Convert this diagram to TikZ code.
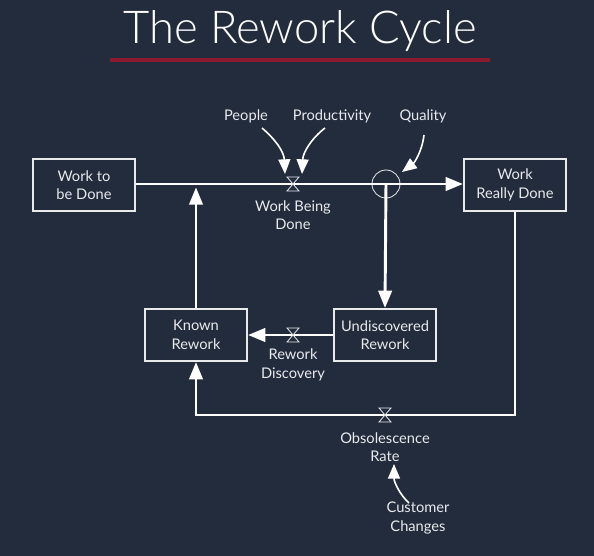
\documentclass[tikz,border=0pt]{standalone}
\usepackage{fontspec}
\setmainfont{Lato}
\newfontfamily\titlefont{Lato Light}
\usetikzlibrary{arrows.meta}

\definecolor{navy}{RGB}{35,44,61}
\definecolor{ink}{RGB}{232,234,236}
\definecolor{rule}{RGB}{140,26,46}

\tikzset{every picture/.style={line width=0.75pt}}
\tikzset{
	stock/.style={draw=ink, line width=1.5pt, minimum width=76.5pt, minimum height=39pt, align=center, text=ink, font=\fontsize{11}{14}\selectfont},
	lbl/.style={text=ink, align=center, font=\fontsize{11}{14}\selectfont},
	flow/.style={draw=white, line width=2.2pt, -{Triangle[length=13pt,width=10pt]}},
	link/.style={draw=white, line width=1.2pt, -{Triangle[length=11pt,width=9pt]}},
	valve/.style={draw=ink, fill=navy, line width=0.6pt}
}

\begin{document}
\begin{tikzpicture}[x=0.75pt,y=0.75pt,yscale=-1,xscale=1]
	\useasboundingbox[fill=navy] (0,0) rectangle (594,556);

	% Title
	\draw (300,31) node [text=white, font=\titlefont\fontsize{34}{40}\selectfont] (title) {The Rework Cycle};
	\draw [rule, line width=3pt] (110,60) -- (490,60);

	% Stocks
	\draw (84,185) node [stock] (wtbd) {Work to\\be Done};
	\draw (515,185) node [stock] (wrd) {Work\\Really Done};
	\draw (196,335) node [stock] (kr) {Known\\Rework};
	\draw (385,335) node [stock] (udr) {Undiscovered\\Rework};

	% Valves and junctions
	\coordinate (wbd) at (293,184);
	\coordinate (rwd) at (293,335);
	\coordinate (obr) at (385,415);
	\coordinate (krtop) at (196,184);
	\draw (386,184) node [circle, draw=ink, line width=0.6pt, minimum size=21pt, inner sep=0pt] (qual) {};

	% Flows
	\draw [flow] (wtbd.east |- wbd) -- (wrd.west |- wbd);
	\draw [flow] (qual.center) -- (udr.north);
	\draw [flow] (kr.north) -- ([yshift=2.5]krtop);
	\draw [flow] (udr.west) -- (kr.east);
	\draw [flow] (wrd.south) |- (obr) -| (kr.south);

	% Valve shapes
	\draw [valve] (wbd) ++(-6,-7) -- ++(12,0) -- ++(-12,14) -- ++(12,0) -- cycle;
	\draw [valve] (rwd) ++(-6,-7) -- ++(12,0) -- ++(-12,14) -- ++(12,0) -- cycle;
	\draw [valve] (obr) ++(-6,-7) -- ++(12,0) -- ++(-12,14) -- ++(12,0) -- cycle;

	% Text Node
	\draw (246,116) node [lbl] (ppl) {People};
	% Text Node
	\draw (332,116) node [lbl] (prod) {Productivity};
	% Text Node
	\draw (423,116) node [lbl] (qlt) {Quality};
	% Text Node
	\draw (293,215) node [lbl] (wbdl) {Work Being\\Done};
	% Text Node
	\draw (293,365) node [lbl] (rwdl) {Rework\\Discovery};
	% Text Node
	\draw (385,447) node [lbl] (obrl) {Obsolescence\\Rate};
	% Text Node
	\draw (418,518) node [lbl] (cust) {Customer\\Changes};

	% Links
	\draw [link] (262,128) .. controls (276,140) and (284,152) .. (285,174);
	\draw [link] (325,128) .. controls (312,138) and (303,152) .. (302,174);
	\draw [link] (424,135) .. controls (422,152) and (414,163) .. (402,172);
	\draw [link] (409,503) .. controls (400,495) and (394,482) .. (394,464);

\end{tikzpicture}
\end{document}
